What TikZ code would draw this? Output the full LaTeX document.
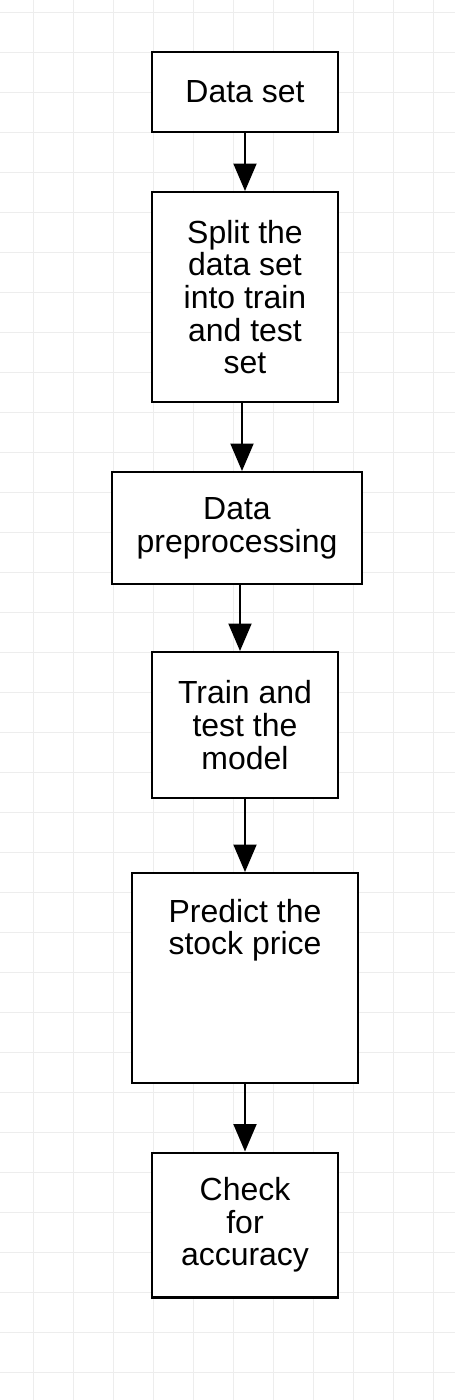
\documentclass[tikz,border=0pt]{standalone}
\usepackage{fontspec}
\setmainfont{Liberation Sans}
\usetikzlibrary{arrows.meta,positioning}
\tikzset{
    stepbox/.style={draw, line width=1.15pt, fill=white, minimum width=3.72cm, minimum height=1.6cm,
        align=center, inner sep=0pt, font=\fontsize{18.2}{18.6}\selectfont},
    flowarrow/.style={line width=1.15pt, -{Triangle[width=0.46cm, length=0.55cm]}},
    gridline/.style={line width=0.5pt, color=black!7}
}
\begin{document}
\begin{tikzpicture}[x=0.02cm, y=-0.02cm]
    \fill [white] (0,0) rectangle (455,1400);
    \useasboundingbox (0,0) rectangle (455,1400);
    % background grid
    \foreach \gx in {33,73,...,433}
        \draw [gridline] (\gx,0) -- (\gx,1400);
    \foreach \gy in {12,52,...,1400}
        \draw [gridline] (0,\gy) -- (455,\gy);
    % boxes
    \node [stepbox] (dataset) at (245,92) {Data set};
    \node [stepbox, minimum height=4.2cm] (split) at (245,297) {Split the\\data set\\into train\\and test\\set};
    \node [stepbox, minimum width=5cm, minimum height=2.24cm] (prep) at (237,528) {Data\\preprocessing};
    \node [stepbox, minimum height=2.92cm] (train) at (245,725) {Train and\\test the\\model};
    \node [stepbox, minimum width=4.52cm, minimum height=4.2cm] (predict) at (245,978) {};
    \node [stepbox, draw=none, fill=none, minimum height=0cm, anchor=north] (predicttext) at ([yshift=-0.52cm]predict.north) {Predict the\\stock price};
    \node [stepbox, minimum height=2.9cm] (check) at (245,1225) {Check\\for\\accuracy};
    % arrows
    \draw [flowarrow] (dataset.south) -- (split.north);
    \draw [flowarrow] ([xshift=-0.06cm]split.south) -- ([xshift=-0.06cm]split.south |- prep.north);
    \draw [flowarrow] ([xshift=0.06cm]prep.south) -- ([xshift=0.06cm]prep.south |- train.north);
    \draw [flowarrow] (train.south) -- (predict.north);
    \draw [flowarrow] (predict.south) -- (check.north);
\end{tikzpicture}
\end{document}
